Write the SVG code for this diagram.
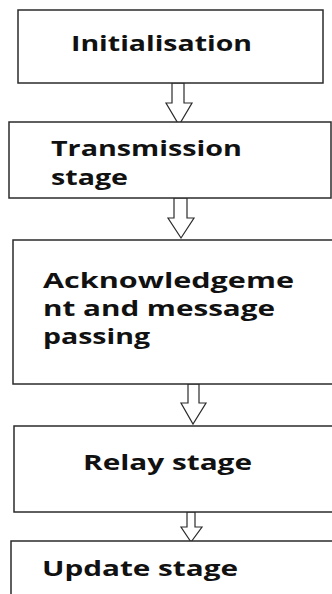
<svg xmlns="http://www.w3.org/2000/svg" width="332" height="594" viewBox="0 0 332 594">
  <defs>
    <style>
      .box { fill: #ffffff; stroke: #2b2b2b; stroke-width: 1.5; }
      .arrow { fill: #ffffff; stroke: #2b2b2b; stroke-width: 1.2; stroke-linejoin: miter; }
      .label { font-family: "Open Sans", "Liberation Sans", sans-serif; font-weight: bold; font-size: 21.5px; fill: #111111; }
    </style>
  </defs>
  <rect width="332" height="594" fill="#ffffff"/>

  <g id="connectors">
    <polygon class="arrow" points="172,83 184,83 184,103 192,103 179,125 166,103 172,103"/>
    <polygon class="arrow" points="174,198 187,198 187,218 194,218 181,238 168,218 174,218"/>
    <polygon class="arrow" points="188,384 199,384 199,403 206,403 193,424 181,403 188,403"/>
    <polygon class="arrow" points="187,512 195,512 195,527 202,527 191,542 181,527 187,527"/>
  </g>

  <g id="initialisation">
    <rect class="box" x="18" y="10" width="305" height="73"/>
    <text class="label" x="71" y="51" textLength="181" lengthAdjust="spacingAndGlyphs">Initialisation</text>
  </g>

  <g id="transmission">
    <rect class="box" x="9" y="122" width="322" height="76"/>
    <text class="label" x="51" y="156" textLength="191" lengthAdjust="spacingAndGlyphs">Transmission</text>
    <text class="label" x="51" y="185" textLength="77" lengthAdjust="spacingAndGlyphs">stage</text>
  </g>

  <g id="acknowledgement">
    <rect class="box" x="13" y="240" width="320" height="144"/>
    <text class="label" x="43" y="288" textLength="251" lengthAdjust="spacingAndGlyphs">Acknowledgeme</text>
    <text class="label" x="43" y="316" textLength="232" lengthAdjust="spacingAndGlyphs">nt and message</text>
    <text class="label" x="43" y="344" textLength="107" lengthAdjust="spacingAndGlyphs">passing</text>
  </g>

  <g id="relay">
    <rect class="box" x="14" y="426" width="320" height="86"/>
    <text class="label" x="83" y="470" textLength="169" lengthAdjust="spacingAndGlyphs">Relay stage</text>
  </g>

  <g id="update">
    <rect class="box" x="11" y="541" width="323" height="60"/>
    <text class="label" x="42" y="576" textLength="196" lengthAdjust="spacingAndGlyphs">Update stage</text>
  </g>
</svg>
